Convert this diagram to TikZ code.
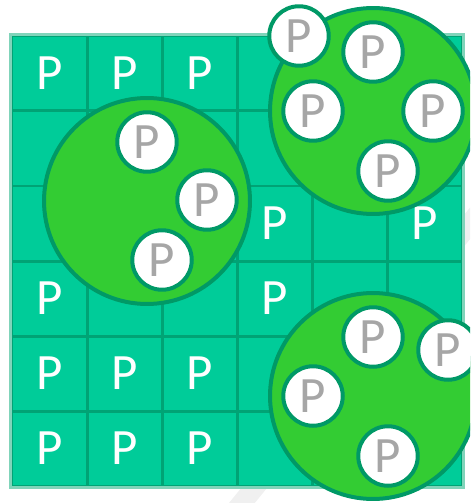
\documentclass[tikz,border=0pt]{standalone}
\usepackage{fontspec}
\setmainfont{Carlito}
\usetikzlibrary{calc}
\definecolor{cellfill}{RGB}{0,204,153}
\definecolor{cellline}{RGB}{0,163,117}
\definecolor{gridrim}{RGB}{128,212,186}
\definecolor{poolfill}{RGB}{51,204,51}
\definecolor{poolline}{RGB}{0,153,102}
\definecolor{tokentext}{RGB}{166,166,166}

\begin{document}
\begin{tikzpicture}[x=0.02cm, y=-0.02cm, every node/.style={font=\fontsize{29}{29}\selectfont},
  cellp/.style={text=white, inner sep=0pt},
  pool/.style={circle, draw=poolline, fill=poolfill, line width=0.08cm, minimum size=4.12cm, inner sep=0pt},
  token/.style={circle, draw=poolline, fill=white, line width=0.08cm, minimum size=1.19cm, inner sep=0pt, text=tokentext}]
  \useasboundingbox (0,0) rectangle (470,503);
  \clip (0,0) rectangle (470,503);
  % faint slash behind the grid
  \draw[black!6, line width=0.4cm] (485,205) -- (228,520);
  % grid of cells
  \fill[cellfill] (12,36) rectangle (462,486);
  \foreach \k in {0,...,6} {
    \draw[cellline, line width=0.06cm] ({12+75*\k},36) -- ({12+75*\k},486);
    \draw[cellline, line width=0.06cm] (12,{36+75*\k}) -- (462,{36+75*\k});
  }
  \draw[gridrim, line width=0.06cm] (10.5,34.5) rectangle (463.5,487.5);
  \foreach \c/\r in {1/1, 2/1, 3/1, 4/3, 6/3, 1/4, 4/4, 1/5, 2/5, 3/5, 1/6, 2/6, 3/6}
    \node[cellp] (p\c\r) at ({75*\c-25.5},{75*\r-1.5}) {P};
  % pools
  \node[pool] (poolW) at (147,201) {};
  \node[pool] (poolNE) at (373,111) {};
  \node[pool] (poolSE) at (373,396) {};
  % tokens
  \node[token] (tokW1) at ($(poolW)+(0,-59)$) {P};
  \node[token] (tokW2) at ($(poolW)+(60,-1)$) {P};
  \node[token] (tokW3) at ($(poolW)+(15,59)$) {P};
  \node[token] (tokNE1) at ($(poolNE)+(0,-59)$) {P};
  \node[token] (tokNE2) at ($(poolNE)+(-60,0)$) {P};
  \node[token] (tokNE3) at ($(poolNE)+(60,0)$) {P};
  \node[token] (tokNE4) at ($(poolNE)+(15,60)$) {P};
  \node[token] (tokNE5) at ($(poolNE)+(-74,-75)$) {P};
  \node[token] (tokSE1) at ($(poolSE)+(0,-59)$) {P};
  \node[token] (tokSE2) at ($(poolSE)+(-60,0)$) {P};
  \node[token] (tokSE3) at ($(poolSE)+(15,60)$) {P};
  \node[token] (tokSE4) at ($(poolSE)+(75,-46)$) {P};
\end{tikzpicture}
\end{document}
